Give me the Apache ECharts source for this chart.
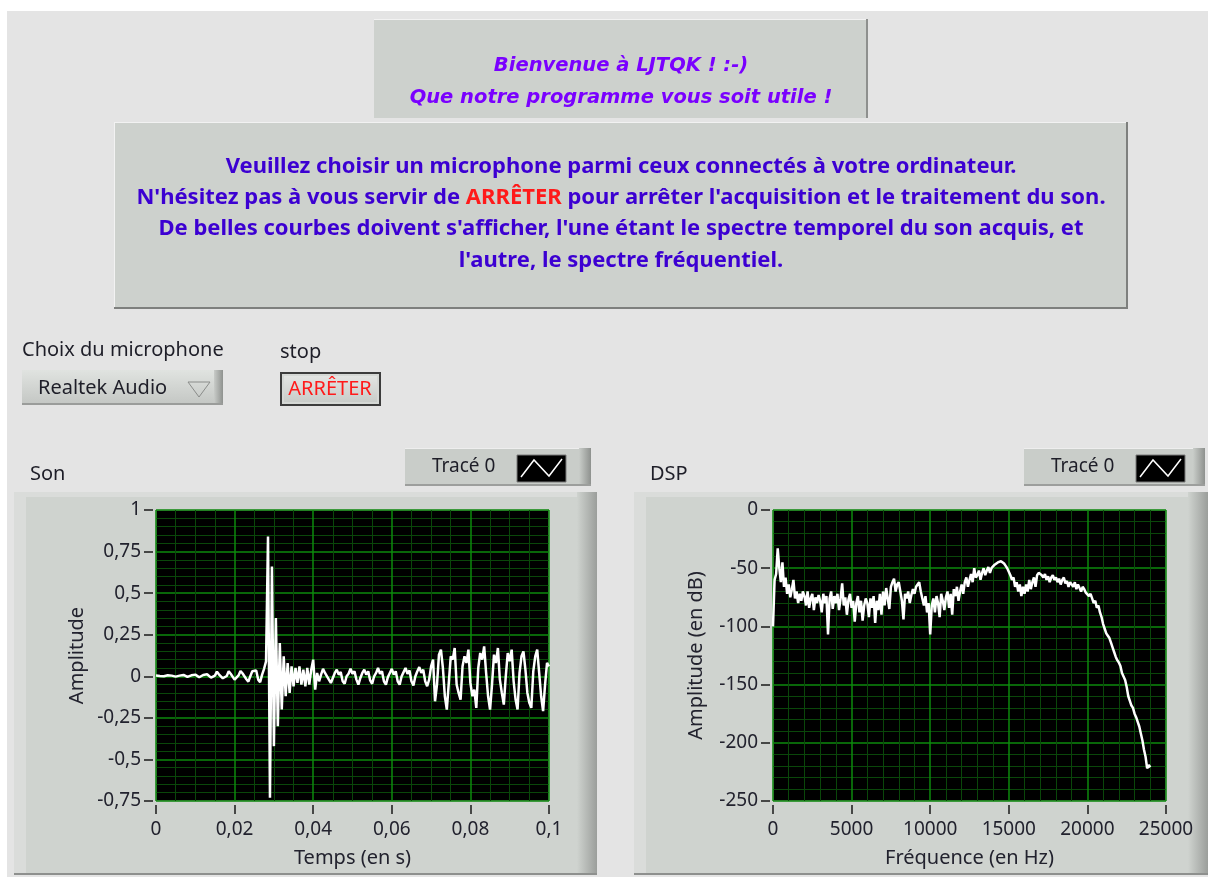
<!DOCTYPE html>
<html><head><meta charset="utf-8">
<script src="https://cdn.jsdelivr.net/npm/echarts@6/dist/echarts.min.js"></script>
<style>html,body{margin:0;padding:0;background:#fff;}#c{width:1208px;height:877px;}</style>
</head><body><div id="c"></div>
<script>
// ---- Data ----
const sonTimeStep = 0.0005; // s between samples
const sonAmplitude = [
 0.005, 0.01, 0.002, 0.008, 0.0, -0.005, 0.006,
 0.012, 0.004, 0.01, -0.002, -0.008, 0.004, 0.015,
 0.008, 0.016, -0.004, -0.01, 0.006, 0.018, 0.01,
 0.02, -0.006, -0.012, 0.008, 0.02, 0.012, 0.022,
 -0.008, -0.018, 0.004, 0.028, 0.012, 0.02, -0.012,
 -0.02, 0.002, 0.03, 0.015, 0.025, -0.02, -0.028,
 0.005, 0.032, 0.018, 0.03, -0.018, -0.032, 0.0,
 0.03, 0.02, 0.035, -0.02, -0.035, 0.01, 0.045,
 0.09, 0.84, -0.73, 0.66, -0.42, 0.35, -0.3, 0.2, -0.2, 0.12, -0.12, 0.08,
 -0.1, 0.06, -0.06, 0.05, -0.04, 0.06, -0.05, 0.04, -0.06, 0.05, -0.05, 0.04,
 0.1, -0.08, 0.02, -0.03, 0.01, 0.045, 0.02, 0.03, -0.02, -0.04,
 -0.01, 0.02, 0.04, 0.01, 0.025, -0.03, -0.045, 0.0, 0.015, 0.045,
 0.015, 0.03, -0.02, -0.05, -0.01, 0.02, 0.04, 0.01, 0.03, -0.025,
 -0.045, 0.0, 0.02, 0.05, 0.015, 0.03, -0.03, -0.05, -0.005, 0.02,
 0.045, 0.01, 0.03, -0.03, -0.05, 0.0, 0.025, 0.05, 0.015, 0.035,
 -0.03, -0.055, 0.0, 0.03, 0.055, 0.02, 0.04, -0.03, -0.06, -0.02,
 0.06, 0.1, -0.15, -0.05, 0.13, 0.16, 0.05, -0.12, -0.2, -0.04,
 0.12, 0.1, 0.17, -0.05, -0.1, -0.14, 0.06, 0.12, 0.08, 0.16,
 -0.04, -0.12, -0.08, -0.19, 0.05, 0.14, 0.1, 0.18, 0.02, -0.12,
 -0.2, -0.05, 0.13, 0.08, 0.17, -0.02, -0.1, -0.17, 0.0, 0.14,
 0.09, 0.16, -0.03, -0.14, -0.2, 0.02, 0.12, 0.15, 0.04, -0.1,
 -0.16, -0.19, 0.03, 0.12, 0.16, 0.02, -0.12, -0.21, -0.05, 0.08,
 0.06
];
const dspFreqStep = 100; // Hz between samples
const dspAmplitude = [
 -100, -60, -55, -33, -50, -62, -45, -66, -58, -72,
 -64, -75, -68, -60, -76, -70, -80, -72, -78, -70,
 -74, -82, -70, -84, -76, -72, -86, -75, -80, -73,
 -78, -88, -72, -80, -74, -107, -76, -70, -85, -74,
 -80, -72, -86, -76, -63, -82, -75, -90, -77, -72,
 -84, -78, -96, -80, -74, -88, -78, -95, -82, -76,
 -80, -92, -76, -84, -74, -97, -78, -86, -72, -90,
 -70, -82, -67, -76, -85, -66, -62, -59, -70, -64,
 -62, -70, -78, -94, -72, -76, -70, -80, -73, -68,
 -72, -66, -64, -62, -70, -76, -82, -74, -88, -80,
 -107, -82, -76, -88, -74, -80, -92, -72, -78, -86,
 -75, -70, -84, -72, -90, -68, -74, -66, -78, -70,
 -64, -72, -62, -58, -66, -60, -55, -62, -50, -58,
 -56, -52, -60, -54, -50, -56, -52, -49, -54, -50,
 -49, -47, -46, -45, -44, -44, -45, -46, -48, -50,
 -53, -56, -60, -58, -66, -62, -70, -64, -74, -66,
 -72, -64, -70, -60, -68, -62, -58, -66, -56, -54,
 -53, -56, -58, -55, -60, -57, -62, -58, -56, -60,
 -58, -62, -59, -64, -60, -58, -63, -61, -66, -62,
 -63, -66, -62, -68, -64, -67, -70, -66, -68, -71,
 -70, -74, -72, -76, -80, -78, -84, -82, -88, -92,
 -98, -102, -106, -108, -110, -114, -118, -122, -126, -129,
 -131, -134, -140, -143, -146, -152, -160, -164, -168, -170,
 -175, -178, -182, -186, -192, -198, -206, -212, -222, -219,
 -221
];
const sonXRange = [0, 0.1, 0.02];
const sonYRange = [-0.75, 1, 0.25];
const dspXRange = [0, 25000, 5000];
const dspYRange = [-250, 0, 50];
const titles = {
  welcome1: 'Bienvenue à LJTQK ! :-)',
  welcome2: 'Que notre programme vous soit utile !',
  info1: 'Veuillez choisir un microphone parmi ceux connectés à votre ordinateur.',
  info2a: "N'hésitez pas à vous servir de ", info2b: 'ARRÊTER', info2c: " pour arrêter l'acquisition et le traitement du son.",
  info3: "De belles courbes doivent s'afficher, l'une étant le spectre temporel du son acquis, et",
  info4: "l'autre, le spectre fréquentiel."
};

// ---- Layout ----
const FONT = '"Noto Sans", "Open Sans", sans-serif';
const WIDE = '"DejaVu Sans", "Noto Sans", sans-serif';
const g = [];
function R(x, y, w, h, fill, st) {
  g.push({type: 'rect', z: -10, silent: true, shape: {x, y, width: w, height: h}, style: Object.assign({fill}, st || {})});
}
function T(x, y, text, st) {
  g.push({type: 'text', z: 10, silent: true, x, y,
    style: Object.assign({text, fill: '#1e1e28', font: '20px ' + FONT, textAlign: 'left', textVerticalAlign: 'middle'}, st || {})});
}
function hgrad(a, b) { return {type: 'linear', x: 0, y: 0, x2: 1, y2: 0, colorStops: [{offset: 0, color: a}, {offset: 1, color: b}]}; }
function vgrad(a, b) { return {type: 'linear', x: 0, y: 0, x2: 0, y2: 1, colorStops: [{offset: 0, color: a}, {offset: 1, color: b}]}; }

// page background
R(0, 0, 1208, 877, '#ffffff');
R(7, 11, 1201, 866, '#e4e4e4');

// welcome box
R(374, 19, 494, 99, '#cdd1cd');
R(374, 19, 494, 1, '#f2f2f2');
R(866, 19, 2, 99, '#8e908e');
T(621, 66, titles.welcome1, {font: 'italic bold 19.5px ' + WIDE, fill: '#7a00ff', textAlign: 'center'});
T(621, 98, titles.welcome2, {font: 'italic bold 19.5px ' + WIDE, fill: '#7a00ff', textAlign: 'center'});

// info box
R(114, 122, 1014, 187, '#cdd1cd');
R(114, 122, 1014, 1, '#f2f2f2');
R(114, 122, 1, 187, '#f2f2f2');
R(1126, 122, 2, 187, '#7e807e');
R(114, 307, 1014, 2, '#7e807e');
const infoStyle = {font: 'bold 22px ' + FONT, fill: '#3c00d2', textAlign: 'center'};
T(621, 167, titles.info1, infoStyle);
g.push({type: 'text', z: 10, silent: true, x: 621, y: 198, style: {
  text: '{a|' + titles.info2a + '}{r|' + titles.info2b + '}{a|' + titles.info2c + '}',
  textAlign: 'center', textVerticalAlign: 'middle',
  rich: {a: {font: 'bold 22px ' + FONT, fill: '#3c00d2'}, r: {font: 'bold 22px ' + FONT, fill: '#ff1a1a'}}
}});
T(621, 229, titles.info3, infoStyle);
T(621, 261, titles.info4, infoStyle);

// microphone chooser
T(22, 350, 'Choix du microphone');
R(22, 370, 201, 35, vgrad('#e0e3e0', '#c3c6c3'));
R(214, 370, 9, 35, hgrad('#c8cbc8', '#8f928f'));
R(22, 403, 201, 2, '#9a9c9a');
T(38, 388, 'Realtek Audio');
g.push({type: 'polygon', z: 10, silent: true, shape: {points: [[188, 382], [210, 382], [199, 397]]}, style: {fill: null, stroke: '#8a8c8a', lineWidth: 1}});

// stop button
T(280, 352, 'stop');
R(281, 373, 99, 32, '#d5d8d5', {stroke: '#3c3c3c', lineWidth: 2});
R(284, 376, 93, 26, vgrad('#e2e4e2', '#c9ccc9'));
T(330, 389, 'ARRÊTER', {fill: '#ff1a1a', textAlign: 'center'});

// graph panels
function panel(x, w, label, legX, legW) {
  T(x + 16, 474, label);
  // legend
  R(legX, 448, legW, 38, '#c9cdc9');
  R(legX, 448, legW, 1, '#eeeeee');
  R(legX + legW - 12, 448, 12, 38, hgrad('#c9cdc9', '#8e918e'));
  R(legX, 484, legW, 2, '#9c9e9c');
  T(legX + 27, 467, 'Tracé 0', {font: '19px ' + FONT});
  const bx = legX + 112;
  R(bx, 455, 49, 27, '#000000', {stroke: '#7a7a7a', lineWidth: 1});
  g.push({type: 'polyline', z: 10, silent: true, shape: {points: [[bx + 4, 477], [bx + 17, 460], [bx + 32, 476], [bx + 45, 459]]},
    style: {stroke: '#ffffff', lineWidth: 1.5, fill: null}});
  // frame
  R(x, 492, w, 383, '#cfd3cf');
  R(x, 492, w, 5, '#dadcda');
  R(x, 492, 12, 383, '#dadcda');
  R(x + w - 20, 492, 20, 383, hgrad('#cfd3cf', '#9b9e9b'));
  R(x, 873, w, 2, '#8e908e');
}
panel(14, 583, 'Son', 405, 186);
panel(634, 574, 'DSP', 1024, 181);

// ---- Axes helpers ----
function fmt(v) { return String(Math.round(v * 10000) / 10000).replace('.', ','); }
const axisText = {color: '#22222e', fontSize: 19, fontFamily: FONT};
const hiddenLine = {show: true, onZero: false, lineStyle: {color: '#cfd3cf', width: 0, opacity: 0}};
const tick = {show: true, inside: false, length: 9, lineStyle: {color: '#1a1a1a', width: 1.5}};
function xAx(gi, r, minorN, name) {
  return {gridIndex: gi, type: 'value', position: 'bottom', min: r[0], max: r[1], interval: r[2], offset: 4,
    axisLine: hiddenLine, axisTick: tick,
    axisLabel: Object.assign({margin: 15, formatter: fmt}, axisText),
    splitLine: {show: true, lineStyle: {color: '#0c8a0c', width: 1.5}},
    minorTick: {show: false, splitNumber: minorN},
    minorSplitLine: {show: true, lineStyle: {color: '#0a470a', width: 1}},
    name, nameLocation: 'middle', nameGap: 43, nameTextStyle: {color: '#22222e', fontSize: 20, fontFamily: FONT}};
}
function yAx(gi, r, minorN, name, gap) {
  return {gridIndex: gi, type: 'value', position: 'left', min: r[0], max: r[1], interval: r[2], offset: 3,
    axisLine: hiddenLine, axisTick: tick,
    axisLabel: Object.assign({margin: 12, formatter: fmt}, axisText),
    splitLine: {show: true, lineStyle: {color: '#0c8a0c', width: 1.5}},
    minorTick: {show: false, splitNumber: minorN},
    minorSplitLine: {show: true, lineStyle: {color: '#0a470a', width: 1}},
    name, nameLocation: 'middle', nameGap: gap, nameRotate: 90, nameTextStyle: {color: '#22222e', fontSize: 20, fontFamily: FONT}};
}

const sonData = sonAmplitude.map((v, i) => [+(i * sonTimeStep).toFixed(6), v]);
const dspData = dspAmplitude.map((v, i) => [i * dspFreqStep, v]);

const chart = echarts.init(document.getElementById('c'), null, {renderer: 'canvas'});
chart.setOption({
  animation: false,
  backgroundColor: '#ffffff',
  graphic: {elements: g},
  grid: [
    {left: 156, top: 510, width: 393, height: 291, show: true, backgroundColor: '#000', borderColor: '#c4c4c4', borderWidth: 1},
    {left: 773, top: 510, width: 393, height: 291, show: true, backgroundColor: '#000', borderColor: '#c4c4c4', borderWidth: 1}
  ],
  xAxis: [xAx(0, sonXRange, 4, 'Temps (en s)'), xAx(1, dspXRange, 5, 'Fréquence (en Hz)')],
  yAxis: [yAx(0, sonYRange, 5, 'Amplitude', 66), yAx(1, dspYRange, 5, 'Amplitude (en dB)', 64)],
  series: [
    {type: 'line', xAxisIndex: 0, yAxisIndex: 0, data: sonData, showSymbol: false, lineStyle: {color: '#ffffff', width: 2.5}, z: 5},
    {type: 'line', xAxisIndex: 1, yAxisIndex: 1, data: dspData, showSymbol: false, lineStyle: {color: '#ffffff', width: 2.5}, z: 5}
  ]
});
</script></body></html>
